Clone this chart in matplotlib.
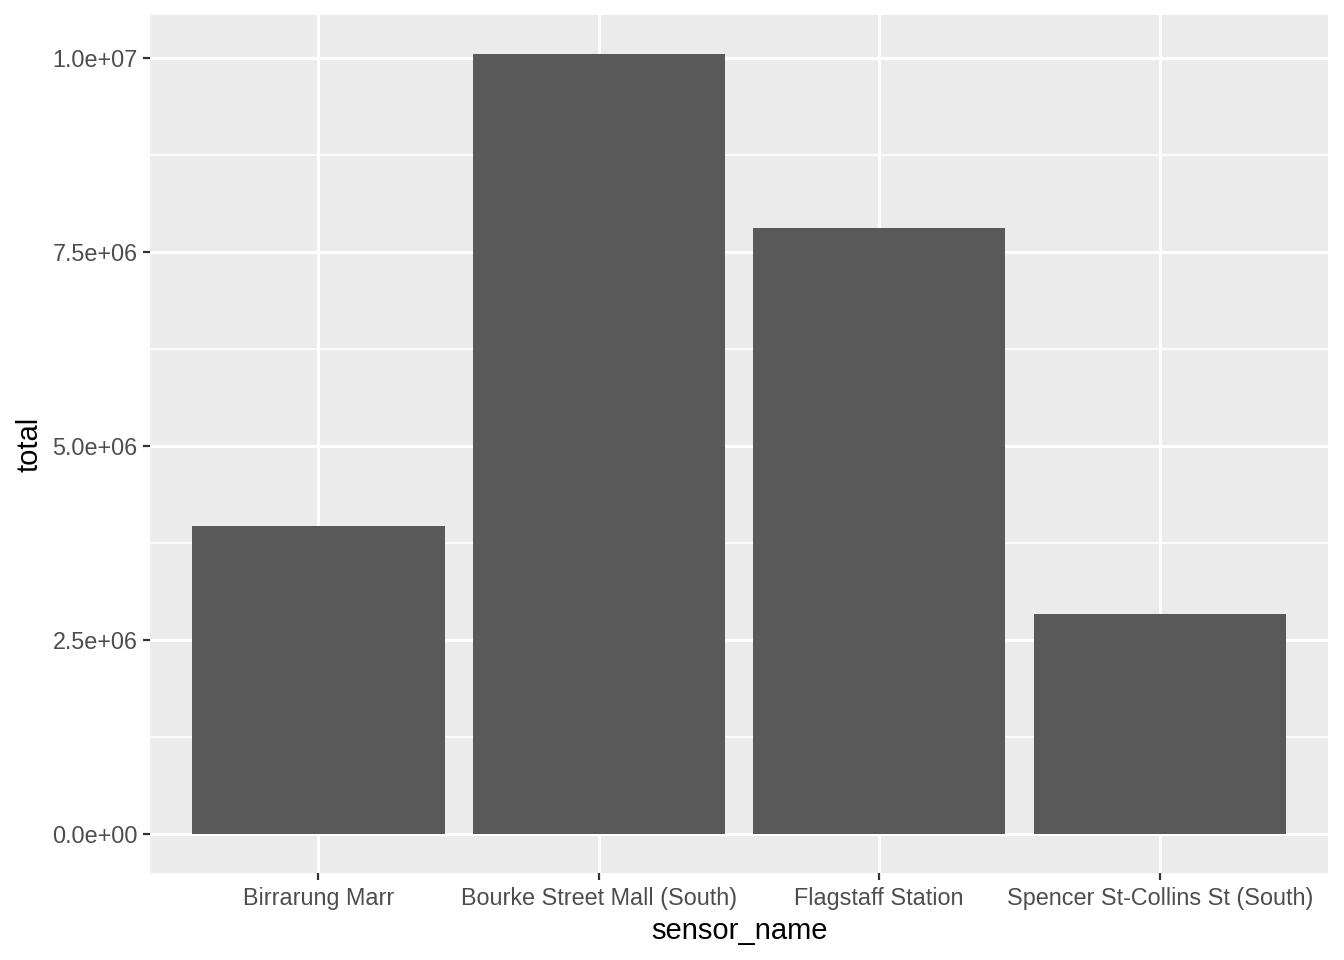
import matplotlib
matplotlib.use("Agg")
import matplotlib.pyplot as plt
import numpy as np

categories = ["Birrarung Marr", "Bourke Street Mall (South)", "Flagstaff Station", "Spencer St-Collins St (South)"]
totals = [3.969e6, 1.0052e7, 7.809e6, 2.835e6]
ytick_values = [0, 2.5e6, 5.0e6, 7.5e6, 1.0e7]
ytick_labels = ["0.0e+00", "2.5e+06", "5.0e+06", "7.5e+06", "1.0e+07"]
yminor_values = [1.25e6, 3.75e6, 6.25e6, 8.75e6]

plt.rcParams['font.family'] = ['Liberation Sans', 'DejaVu Sans']

fig = plt.figure(figsize=(13.44, 9.6), dpi=100)
ax = fig.add_axes([150/1344, (960-873)/960, (1328-150)/1344, (873-15)/960])
ax.set_facecolor("#EBEBEB")
for s in ax.spines.values():
    s.set_visible(False)

x = np.arange(len(categories))
ax.set_axisbelow(True)
for v in yminor_values:
    ax.axhline(v, color="white", lw=1.1, zorder=0)
for v in ytick_values:
    ax.axhline(v, color="white", lw=2.2, zorder=0)
for xi in x:
    ax.axvline(xi, color="white", lw=2.2, zorder=0)

ax.bar(x, totals, width=0.9, color="#595959", zorder=2)

ax.set_xlim(-0.6, len(categories) - 0.4)
ymax = max(totals)
ax.set_ylim(-0.05 * ymax, 1.05 * ymax)

ax.set_xticks(x)
ax.set_xticklabels(categories)
ax.set_yticks(ytick_values)
ax.set_yticklabels(ytick_labels)
ax.tick_params(axis='both', colors="#333333", length=5, width=1.6, labelsize=16.8, labelcolor="#4D4D4D", pad=4)
ax.tick_params(axis='x', pad=5)

ax.set_xlabel("sensor_name", fontsize=21, color="black", labelpad=5)
ax.set_ylabel("total", fontsize=21, color="black", labelpad=6)

fig.savefig("out.png", dpi=100)
